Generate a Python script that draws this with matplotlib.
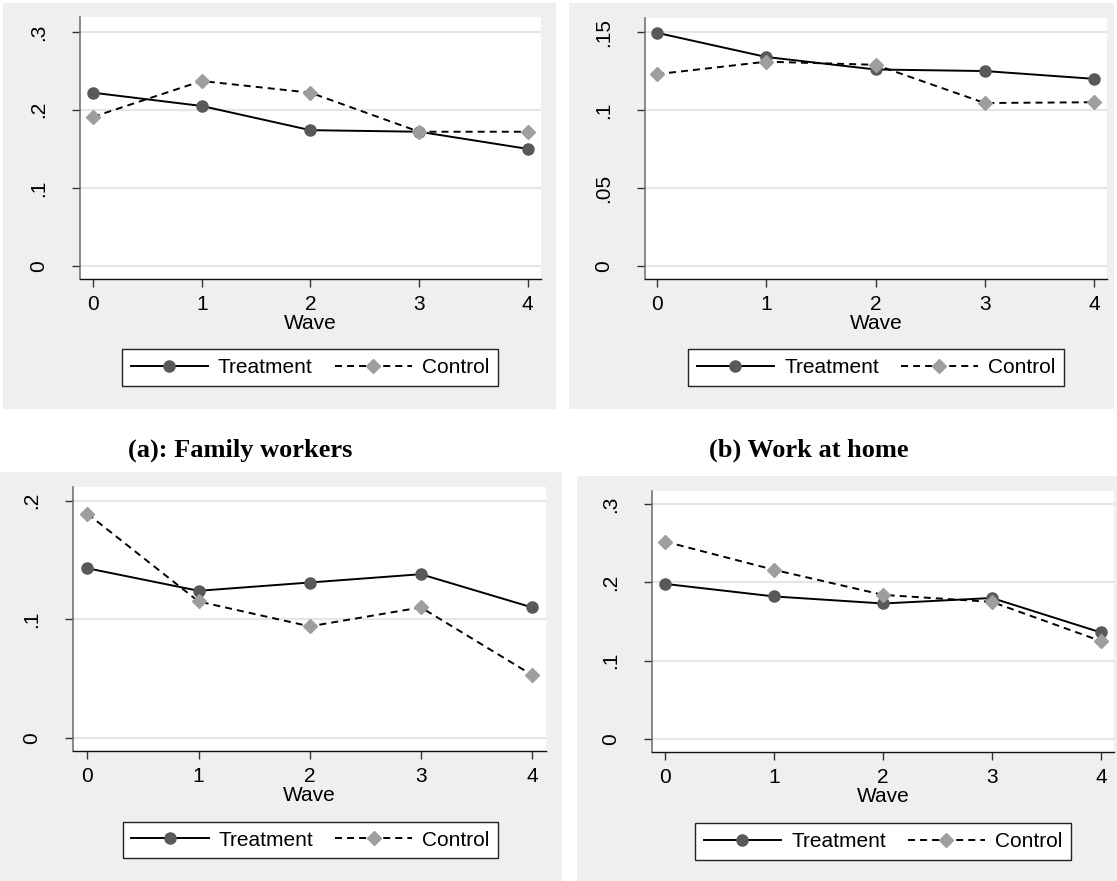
import matplotlib
matplotlib.use("Agg")
import matplotlib.pyplot as plt
from matplotlib.patches import Rectangle

# ---------------- data ----------------
waves = [0, 1, 2, 3, 4]
series_names = ["Treatment", "Control"]

fam_treat = [0.222, 0.205, 0.174, 0.172, 0.150]
fam_ctrl = [0.191, 0.237, 0.222, 0.172, 0.172]

home_treat = [0.1495, 0.134, 0.126, 0.125, 0.120]
home_ctrl = [0.123, 0.131, 0.129, 0.1045, 0.105]

c_treat = [0.143, 0.124, 0.131, 0.138, 0.110]
c_ctrl = [0.189, 0.115, 0.094, 0.110, 0.053]

d_treat = [0.198, 0.182, 0.173, 0.180, 0.136]
d_ctrl = [0.252, 0.216, 0.184, 0.175, 0.125]

yticks_a = [0, 0.1, 0.2, 0.3]
ylabels_a = ["0", ".1", ".2", ".3"]
yticks_b = [0, 0.05, 0.10, 0.15]
ylabels_b = ["0", ".05", ".1", ".15"]
yticks_c = [0, 0.1, 0.2]
ylabels_c = ["0", ".1", ".2"]
yticks_d = [0, 0.1, 0.2, 0.3]
ylabels_d = ["0", ".1", ".2", ".3"]

captions = ["(a): Family workers", "(b) Work at home"]
xlabel = "Wave"

# ---------------- layout ----------------
W, H = 1117, 881
DPI = 100
fig = plt.figure(figsize=(W / DPI, H / DPI), dpi=DPI)
fig.patch.set_facecolor("white")

SANS = ["Liberation Sans", "Arimo", "DejaVu Sans"]
SERIF = ["Liberation Serif", "DejaVu Serif"]
plt.rcParams["font.family"] = SANS

BG = "#efefef"
GRID = "#e6e6e6"
TREAT_C = "#595959"
CTRL_C = "#9e9e9e"
FS = 15


def frect(x0, y0, x1, y1):
    return [x0 / W, 1 - y1 / H, (x1 - x0) / W, (y1 - y0) / H]


def fpt(x, y):
    return (x / W, 1 - y / H)


panels = [
    dict(bg=(3, 3, 556, 409), ax=(80, 17, 541, 279), xlim=(-0.12, 4.122),
         ylim=(-0.0167, 0.319), yt=yticks_a, yl=ylabels_a,
         t=fam_treat, c=fam_ctrl, leg=(310, 367.5)),
    dict(bg=(569, 3, 1114, 409), ax=(645, 18, 1107, 279), xlim=(-0.11, 4.119),
         ylim=(-0.0083, 0.159), yt=yticks_b, yl=ylabels_b,
         t=home_treat, c=home_ctrl, leg=(876, 367.5)),
    dict(bg=(0, 472, 562, 881), ax=(73, 487, 546, 751), xlim=(-0.13, 4.126),
         ylim=(-0.0112, 0.2116), yt=yticks_c, yl=ylabels_c,
         t=c_treat, c=c_ctrl, leg=(310.5, 840)),
    dict(bg=(577, 476, 1117, 881), ax=(652, 491, 1114, 752), xlim=(-0.12, 4.12),
         ylim=(-0.0166, 0.3166), yt=yticks_d, yl=ylabels_d,
         t=d_treat, c=d_ctrl, leg=(883, 841.5)),
]

for p in panels:
    x0, y0, x1, y1 = p["bg"]
    rect = Rectangle(fpt(x0, y1), (x1 - x0) / W, (y1 - y0) / H,
                     transform=fig.transFigure, facecolor=BG,
                     edgecolor="none", zorder=-10)
    fig.add_artist(rect)

    ax = fig.add_axes(frect(*p["ax"]))
    ax.set_zorder(1)
    ax.set_facecolor("white")
    ax.set_xlim(*p["xlim"])
    ax.set_ylim(*p["ylim"])
    for s in ["top", "right"]:
        ax.spines[s].set_visible(False)
    ax.spines["left"].set_color("#6a6a6a")
    ax.spines["left"].set_linewidth(1.1)
    ax.spines["bottom"].set_color("#111111")
    ax.spines["bottom"].set_linewidth(1.0)

    ax.set_yticks(p["yt"])
    ax.set_yticklabels(p["yl"], rotation=90, va="center", ha="right",
                       fontsize=FS)
    ax.set_xticks(waves)
    ax.set_xticklabels([str(w) for w in waves], fontsize=FS)
    ax.tick_params(axis="y", length=5.8, width=1.0, color="#333333", pad=17)
    ax.tick_params(axis="x", length=5.8, width=1.0, color="#333333", pad=5.5)
    ax.set_xlabel(xlabel, fontsize=FS, labelpad=0)
    for yv in p["yt"]:
        ax.axhline(yv, color=GRID, lw=1.6, zorder=1)

    lt, = ax.plot(waves, p["t"], color="black", lw=1.4, marker="o",
                  markersize=8, markerfacecolor=TREAT_C,
                  markeredgecolor=TREAT_C, zorder=3, label=series_names[0])
    lc, = ax.plot(waves, p["c"], color="black", lw=1.4, linestyle=(0, (3.6, 2.6)),
                  marker="D", markersize=7.5, markerfacecolor=CTRL_C,
                  markeredgecolor=CTRL_C, zorder=4, label=series_names[1])

    leg = ax.legend(handles=[lt, lc], loc="center", ncol=2,
                    bbox_to_anchor=fpt(*p["leg"]),
                    bbox_transform=fig.transFigure, fontsize=FS,
                    frameon=True, fancybox=False, shadow=False,
                    edgecolor="#222222", facecolor="white", framealpha=1,
                    handlelength=3.7, handletextpad=0.48, columnspacing=1.05,
                    borderpad=0.42, borderaxespad=0)
    leg.get_frame().set_linewidth(1.0)

fig.text(*fpt(240, 450), captions[0], ha="center", va="center",
         fontsize=19, fontweight="bold", family=SERIF)
fig.text(*fpt(809, 450), captions[1], ha="center", va="center",
         fontsize=19, fontweight="bold", family=SERIF)

fig.savefig("out.png", dpi=DPI, facecolor="white")
